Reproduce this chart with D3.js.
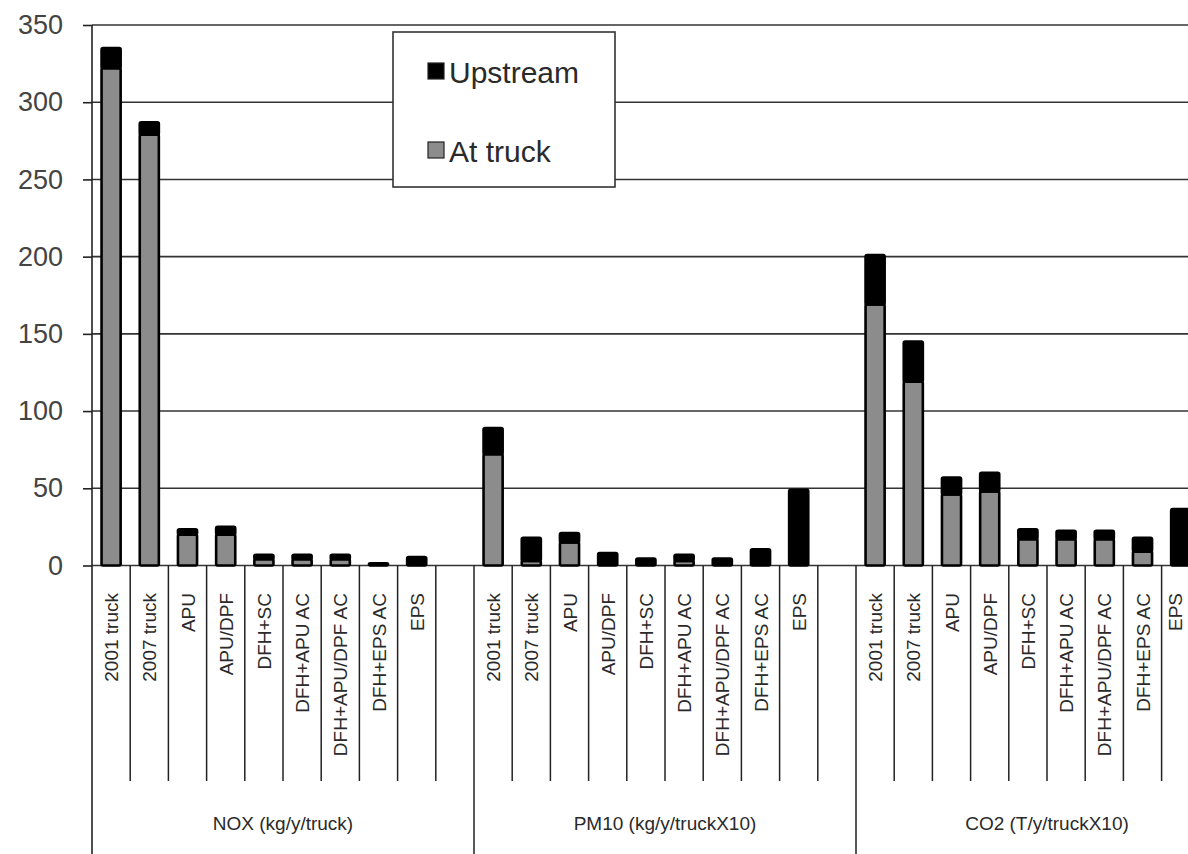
<!DOCTYPE html>
<html><head><meta charset="utf-8">
<script src="https://cdn.jsdelivr.net/npm/d3@7"></script>
<style>
html,body{margin:0;padding:0;background:#fff;}
svg{display:block;font-family:"Liberation Sans",Arial,sans-serif;}
</style></head>
<body>
<svg id="chart" width="1188" height="854"></svg>
<script>
// ---- data ----
const groups = ["NOX (kg/y/truck)", "PM10 (kg/y/truckX10)", "CO2 (T/y/truckX10)"];
const categories = ["2001 truck", "2007 truck", "APU", "APU/DPF", "DFH+SC", "DFH+APU AC", "DFH+APU/DPF AC", "DFH+EPS AC", "EPS", ""];
const atTruckNOX  = [322, 279, 20, 20, 4, 4, 4, 0, 0, null];
const upstreamNOX = [13, 8, 3.5, 5, 3, 3, 3, 1.5, 5.5, null];
const atTruckPM10  = [72, 3, 15, 0, 0, 3, 0, 0, 0, null];
const upstreamPM10 = [17, 15, 6, 8, 4.5, 4, 4.5, 10.5, 49, null];
const atTruckCO2  = [169, 119, 46, 48, 17, 17, 17, 9, 0, null];
const upstreamCO2 = [32, 26, 11, 12, 6.5, 5.5, 5.5, 9, 36.5, null];
const yTicks = [0, 50, 100, 150, 200, 250, 300, 350];
const seriesNames = ["Upstream", "At truck"];
const seriesColors = ["#000000", "#8c8c8c"];

const atTruck = [atTruckNOX, atTruckPM10, atTruckCO2];
const upstream = [upstreamNOX, upstreamPM10, upstreamCO2];

// ---- build rows ----
const rows = [];
groups.forEach((g, gi) => {
  categories.forEach((c, ci) => {
    rows.push({key: gi + "|" + ci, group: g, gi, ci, cat: c,
      at: atTruck[gi][ci], up: upstream[gi][ci]});
  });
});

const W = 1188;
const svg = d3.select("#chart");
const x0 = 92, x1 = 1238;
const x = d3.scaleBand().domain(rows.map(d => d.key)).range([x0, x1])
  .paddingInner(0.5).paddingOuter(0.25);
const step = x.step();
const y = d3.scaleLinear().domain([0, 350]).range([565.5, 25]);
const ink = "#2a2a2a";

// gridlines
svg.append("g").selectAll("line").data(yTicks).join("line")
  .attr("x1", x0).attr("x2", W)
  .attr("y1", d => y(d)).attr("y2", d => y(d))
  .attr("stroke", "#333").attr("stroke-width", 1.6);

// y axis
const yAxis = d3.axisLeft(y).tickValues(yTicks).tickSize(9).tickPadding(20).tickFormat(d3.format("d"));
const ya = svg.append("g").attr("transform", `translate(${x0},0)`).call(yAxis);
ya.select(".domain").remove();
ya.selectAll(".tick line").attr("stroke", "#222").attr("stroke-width", 1.6);
ya.selectAll(".tick text").attr("font-size", 27).attr("fill", "#444")
  .attr("font-family", "'Liberation Sans', Arial, sans-serif");
svg.append("line").attr("x1", x0).attr("x2", x0).attr("y1", y(350)).attr("y2", 854)
  .attr("stroke", "#222").attr("stroke-width", 1.6);

// category separators
const sep = svg.append("g");
rows.forEach((d, i) => {
  if (i === 0) return;
  const bx = x0 + i * step;
  const isGroup = d.ci === 0;
  sep.append("line").attr("x1", bx).attr("x2", bx)
    .attr("y1", y(0)).attr("y2", isGroup ? 854 : 781)
    .attr("stroke", "#222").attr("stroke-width", 1.5);
});

// bars
const bars = svg.append("g");
const valid = rows.filter(d => d.at !== null);
bars.selectAll("rect.at").data(valid.filter(d => d.at > 0)).join("rect")
  .attr("class", "at")
  .attr("x", d => x(d.key)).attr("width", x.bandwidth())
  .attr("y", d => y(d.at)).attr("height", d => y(0) - y(d.at))
  .attr("fill", seriesColors[1]).attr("stroke", "#000").attr("stroke-width", 2.6)
  .attr("rx", 1.5);
bars.selectAll("rect.up").data(valid.filter(d => d.up > 0)).join("rect")
  .attr("class", "up")
  .attr("x", d => x(d.key)).attr("width", x.bandwidth())
  .attr("y", d => y(d.at + d.up)).attr("height", d => y(d.at) - y(d.at + d.up))
  .attr("fill", seriesColors[0]).attr("stroke", "#000").attr("stroke-width", 2.6)
  .attr("rx", 1.5);

// category labels (rotated); keep the last one inside the picture
svg.append("g").selectAll("text").data(rows.filter(d => d.cat !== "")).join("text")
  .attr("transform", d => `translate(${Math.min(x(d.key) + x.bandwidth() / 2 + 7, W - 6)},593) rotate(-90)`)
  .attr("text-anchor", "end")
  .attr("font-size", 19).attr("fill", ink)
  .text(d => d.cat);

// group labels
svg.append("g").selectAll("text").data(groups).join("text")
  .attr("x", (g, gi) => x0 + (gi * 10 + 5) * step)
  .attr("y", 830)
  .attr("text-anchor", "middle").attr("font-size", 19).attr("fill", ink)
  .text(d => d);

// legend
const lg = svg.append("g");
lg.append("rect").attr("x", 393).attr("y", 32).attr("width", 222).attr("height", 155)
  .attr("fill", "#fff").attr("stroke", "#333").attr("stroke-width", 1.6);
seriesNames.forEach((s, i) => {
  const ly = i === 0 ? 63 : 142;
  lg.append("rect").attr("x", 428).attr("y", ly).attr("width", 16).attr("height", 16)
    .attr("fill", seriesColors[i]).attr("stroke", "#222").attr("stroke-width", 1.2);
  lg.append("text").attr("x", 449).attr("y", ly + 20).attr("font-size", 30).attr("fill", ink)
    .text(s);
});
</script>
</body></html>
